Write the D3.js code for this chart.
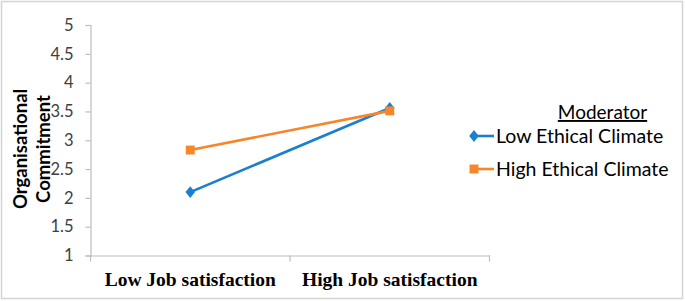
<!DOCTYPE html>
<html><head><meta charset="utf-8">
<script src="https://cdn.jsdelivr.net/npm/d3@7"></script>
<style>body{margin:0;background:#fff}svg{display:block}</style>
</head><body>
<script>
const categories = ["Low Job satisfaction", "High Job satisfaction"];
const seriesNames = ["Low Ethical Climate", "High Ethical Climate"];
const lowEthical = [2.10, 3.56];
const highEthical = [2.83, 3.51];
const yTicks = [1, 1.5, 2, 2.5, 3, 3.5, 4, 4.5, 5];
const colors = ["#1b7fd0", "#f7862a"];

const W = 685, H = 301;
const svg = d3.select("body").append("svg").attr("width", W).attr("height", H);
svg.append("rect").attr("x", 1.5).attr("y", 1.5).attr("width", 681).attr("height", 297)
  .attr("fill", "#fff").attr("stroke", "#d4d4d4").attr("stroke-width", 1.5);

const x0 = 90.5, x1 = 489.5, yTop = 25, yBot = 255.5;
const x = d3.scaleBand().domain(categories).range([x0, x1]).paddingInner(0).paddingOuter(0);
const y = d3.scaleLinear().domain([1, 5]).range([yBot, yTop]);
const axisCol = "#bdbdbd";

// Y axis
const ya = svg.append("g").attr("transform", `translate(${x0},0)`)
  .call(d3.axisLeft(y).tickValues(yTicks).tickSize(5).tickFormat(d3.format("")));
ya.select(".domain").attr("stroke", axisCol).attr("stroke-width", 1.2);
ya.selectAll(".tick line").attr("stroke", axisCol).attr("stroke-width", 1.2);
ya.selectAll(".tick text").attr("font-family", "Lato, 'Open Sans', sans-serif")
  .attr("font-size", 16.5).attr("fill", "#404040").attr("x", -17);

// X axis
const xa = svg.append("g").attr("transform", `translate(0,${yBot})`)
  .call(d3.axisBottom(x).tickSize(0).tickSizeOuter(0));
xa.select(".domain").attr("stroke", axisCol).attr("stroke-width", 1.2);
xa.selectAll(".tick text").attr("font-family", "'Liberation Serif', 'Times New Roman', serif")
  .attr("font-weight", "bold").attr("font-size", 19.5).attr("fill", "#000").attr("y", 11).attr("dy", "1em");
// category boundary ticks
const bounds = [x0, x0 + x.bandwidth(), x1];
svg.selectAll(".bt").data(bounds).enter().append("line")
  .attr("x1", d => d).attr("x2", d => d).attr("y1", yBot).attr("y2", yBot + 6)
  .attr("stroke", axisCol).attr("stroke-width", 1.2);

// Y title
const yt = svg.append("text").attr("transform", "translate(27,149) rotate(-90)")
  .attr("text-anchor", "middle").attr("font-family", "Lato, 'Open Sans', sans-serif")
  .attr("font-weight", "bold").attr("font-size", 18.5).attr("fill", "#000");
yt.append("tspan").attr("x", 0).attr("dy", 0).text("Organisational");
yt.append("tspan").attr("x", 0).attr("dy", 23).text("Commitment");

const cx = d => x(d) + x.bandwidth() / 2;
const line = d3.line().x((d, i) => cx(categories[i])).y(d => y(d));
const data = [lowEthical, highEthical];
data.forEach((vals, si) => {
  svg.append("path").datum(vals).attr("d", line).attr("fill", "none")
    .attr("stroke", colors[si]).attr("stroke-width", 2.6);
});
const diamond = d3.symbol().type(d3.symbolDiamond).size(50);
const square = d3.symbol().type(d3.symbolSquare).size(80);
svg.selectAll(".m0").data(lowEthical).enter().append("path")
  .attr("d", diamond).attr("fill", colors[0])
  .attr("transform", (d, i) => `translate(${cx(categories[i])},${y(d)}) scale(1.25,0.9)`);
svg.selectAll(".m1").data(highEthical).enter().append("path")
  .attr("d", square).attr("fill", colors[1])
  .attr("transform", (d, i) => `translate(${cx(categories[i])},${y(d)})`);

// Legend
const lf = "Lato, 'Open Sans', sans-serif";
svg.append("text").attr("x", 602.5).attr("y", 119).attr("text-anchor", "middle")
  .attr("font-family", lf).attr("font-size", 19).attr("fill", "#000")
  .attr("text-decoration", "underline").text("Moderator");
const legY = [136, 169];
seriesNames.forEach((n, i) => {
  svg.append("line").attr("x1", 470).attr("x2", 494).attr("y1", legY[i]).attr("y2", legY[i])
    .attr("stroke", colors[i]).attr("stroke-width", 2.6);
  svg.append("path").attr("d", i === 0 ? diamond : square).attr("fill", colors[i])
    .attr("transform", `translate(474,${legY[i]})` + (i === 0 ? " scale(1.25,0.9)" : ""));
  svg.append("text").attr("x", 496).attr("y", legY[i] + 7).attr("font-family", lf)
    .attr("font-size", 19.5).attr("fill", "#000").text(n);
});
</script>
</body></html>
